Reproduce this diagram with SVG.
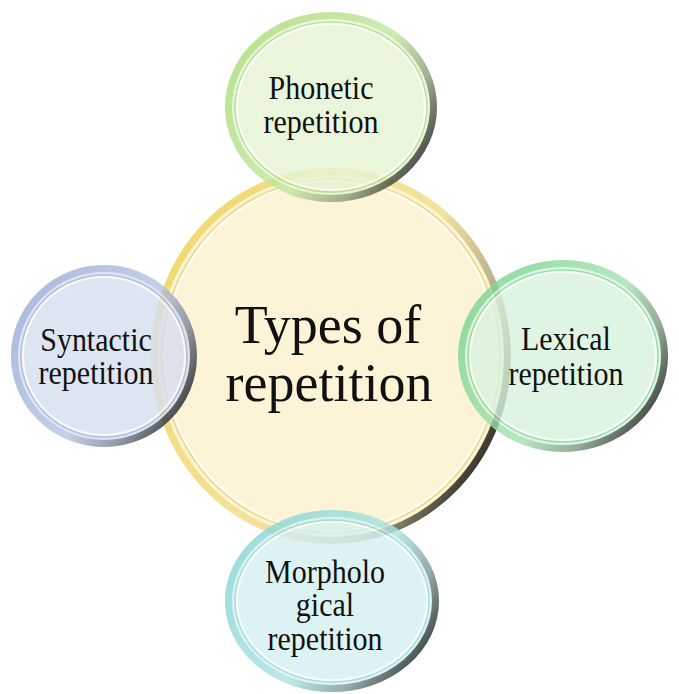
<svg xmlns="http://www.w3.org/2000/svg" width="679" height="694" viewBox="0 0 679 694">
<defs>
<style>
.t{font-family:"Liberation Serif","Times New Roman",serif;fill:#111;text-anchor:middle}
.sat{font-size:30px}
.ctr{font-size:54px}
.hl{fill:none;stroke:#ffffff;stroke-opacity:.8;stroke-width:2}
.bev{fill:none;stroke-width:7}
</style>
<linearGradient id="shY" x1="0" y1="0.1" x2="1" y2="0.7">
<stop offset="0" stop-color="#f0d866"/><stop offset="0.6" stop-color="#f3e3a0"/><stop offset="0.82" stop-color="#b4ab8c"/><stop offset="1" stop-color="#2a2a22"/>
</linearGradient>
<linearGradient id="shG" x1="0" y1="0.1" x2="1" y2="0.7">
<stop offset="0" stop-color="#a6db70"/><stop offset="0.6" stop-color="#c4e6a2"/><stop offset="0.82" stop-color="#8a9a7c"/><stop offset="1" stop-color="#1f221c"/>
</linearGradient>
<linearGradient id="shB" x1="0" y1="0.1" x2="1" y2="0.7">
<stop offset="0" stop-color="#94a9d4"/><stop offset="0.6" stop-color="#b7c5e2"/><stop offset="0.82" stop-color="#7a8190"/><stop offset="1" stop-color="#1c1e24"/>
</linearGradient>
<linearGradient id="shL" x1="0" y1="0.1" x2="1" y2="0.7">
<stop offset="0" stop-color="#72d28a"/><stop offset="0.6" stop-color="#a5e2b3"/><stop offset="0.82" stop-color="#7a967f"/><stop offset="1" stop-color="#1b221d"/>
</linearGradient>
<linearGradient id="shC" x1="0" y1="0.1" x2="1" y2="0.7">
<stop offset="0" stop-color="#7fd4d2"/><stop offset="0.6" stop-color="#ade3e1"/><stop offset="0.82" stop-color="#7a9594"/><stop offset="1" stop-color="#1b2222"/>
</linearGradient>
</defs>
<rect width="679" height="694" fill="#ffffff"/>

<g id="n-center">
<ellipse cx="331" cy="356" rx="180" ry="188" fill="#fdf3d6"/>
<ellipse cx="331" cy="356" rx="176.5" ry="184.5" class="bev" stroke="url(#shY)"/>
<ellipse cx="331" cy="356" rx="169" ry="177" fill="none" stroke="#ecd77c" stroke-width="1.5"/>
<ellipse cx="331" cy="356" rx="167" ry="175" class="hl"/>
<text class="t ctr" x="328" y="343">Types of</text>
<text class="t ctr" x="329" y="401">repetition</text>
</g>

<g id="n-phonetic" opacity="0.8">
<ellipse cx="331" cy="107" rx="106" ry="95" fill="#e5f4d4"/>
<ellipse cx="331" cy="107" rx="102.5" ry="91.5" class="bev" stroke="url(#shG)"/>
<ellipse cx="331" cy="107" rx="96" ry="85" fill="none" stroke="#a9dc7c" stroke-width="1.5"/>
<ellipse cx="331" cy="107" rx="94" ry="83" class="hl"/>
</g>
<text class="t sat" transform="translate(321,99) scale(1,1.1)">Phonetic</text>
<text class="t sat" transform="translate(321,133) scale(1,1.1)">repetition</text>

<g id="n-syntactic" opacity="0.8">
<ellipse cx="104" cy="356" rx="93" ry="91" fill="#d6dff0"/>
<ellipse cx="104" cy="356" rx="89.5" ry="87.5" class="bev" stroke="url(#shB)"/>
<ellipse cx="104" cy="356" rx="83" ry="81" fill="none" stroke="#9cb0d8" stroke-width="1.5"/>
<ellipse cx="104" cy="356" rx="81" ry="79" class="hl"/>
</g>
<text class="t sat" transform="translate(96,351) scale(1,1.1)">Syntactic</text>
<text class="t sat" transform="translate(96,384) scale(1,1.1)">repetition</text>

<g id="n-lexical" opacity="0.8">
<ellipse cx="563" cy="356" rx="105" ry="96" fill="#d8f3de"/>
<ellipse cx="563" cy="356" rx="101.5" ry="92.5" class="bev" stroke="url(#shL)"/>
<ellipse cx="563" cy="356" rx="95" ry="86" fill="none" stroke="#7ed696" stroke-width="1.5"/>
<ellipse cx="563" cy="356" rx="93" ry="84" class="hl"/>
</g>
<text class="t sat" transform="translate(566,350) scale(1,1.1)">Lexical</text>
<text class="t sat" transform="translate(566,385) scale(1,1.1)">repetition</text>

<g id="n-morphological" opacity="0.8">
<ellipse cx="332" cy="601" rx="107" ry="91" fill="#d5f1f1"/>
<ellipse cx="332" cy="601" rx="103.5" ry="87.5" class="bev" stroke="url(#shC)"/>
<ellipse cx="332" cy="601" rx="97" ry="81" fill="none" stroke="#8bd8d6" stroke-width="1.5"/>
<ellipse cx="332" cy="601" rx="95" ry="79" class="hl"/>
</g>
<text class="t sat" transform="translate(325,583) scale(1,1.1)">Morpholo</text>
<text class="t sat" transform="translate(325,616) scale(1,1.1)">gical</text>
<text class="t sat" transform="translate(325,650) scale(1,1.1)">repetition</text>

<g id="connectors"></g>
</svg>
